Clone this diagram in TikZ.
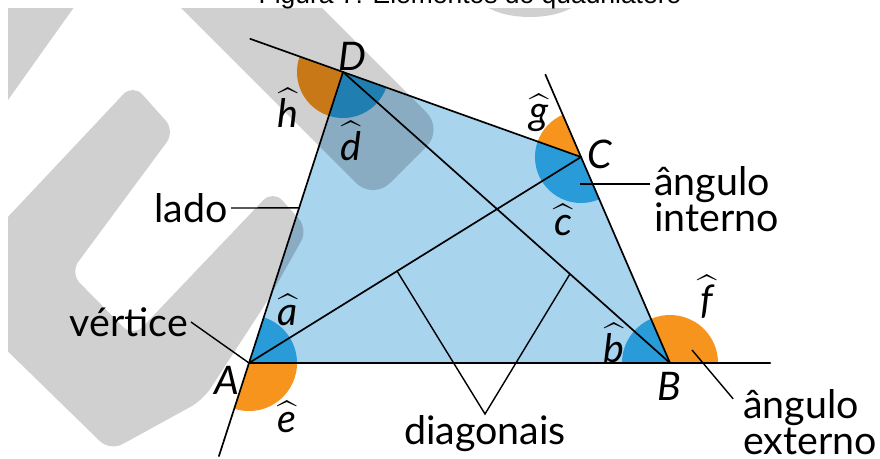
\documentclass[tikz,border=0pt]{standalone}
\usepackage{amsmath}
\usepackage{fontspec}
\setmainfont{Lato}
\newfontfamily\titlefont{Liberation Sans}
\usepackage{tikz}
\usetikzlibrary{angles,calc,positioning}
\definecolor{quadblue}{RGB}{168,212,238}
\definecolor{angblue}{RGB}{41,155,216}
\definecolor{angorange}{RGB}{247,148,30}
\definecolor{markgray}{RGB}{208,208,208}
\tikzset{
  every picture/.style={text=black},
}

\begin{document}
\begin{tikzpicture}[x=0.025cm, y=0.025cm,
  every node/.style={font=\fontsize{28}{26}\selectfont},
  edge/.style={line width=1.2pt, line cap=round},
  leader/.style={line width=1pt},
  intang/.style={fill=angblue, angle radius=1.2cm},
  extang/.style={fill=angorange, angle radius=1.2cm},
  vlabel/.style={font=\fontsize{28}{30}\selectfont\itshape, inner sep=0pt},
  hatlabel/.style={inner sep=0pt}]
\useasboundingbox (0,0) rectangle (880,459);
% title, cut off at the top edge
\node[font=\titlefont\fontsize{18.8}{20}\selectfont, anchor=base] (title) at (470,455)
  {Figura 7: Elementos do quadril\'atero};
% Vertices and the ends of the prolonged sides
\coordinate (A) at (249,96);
\coordinate (B) at (670,96);
\coordinate (C) at (581,302);
\coordinate (D) at (343,387);
\coordinate (Ax) at ($(A)!-0.32!(D)$);
\coordinate (Bx) at ($(B)!-0.238!(A)$);
\coordinate (Cx) at ($(C)!-0.4!(B)$);
\coordinate (Dx) at ($(D)!-0.39!(C)$);
% Quadrilateral
\fill[quadblue] (A) -- (B) -- (C) -- (D) -- cycle;
% Internal (blue) and external (orange) angles
\pic[intang] {angle=B--A--D};
\pic[extang] {angle=Ax--A--B};
\pic[intang] {angle=C--B--A};
\pic[extang] {angle=Bx--B--C};
\pic[intang, angle radius=1.15cm] {angle=D--C--B};
\pic[extang, angle radius=1.15cm] {angle=Cx--C--D};
\pic[intang, angle radius=1.15cm] {angle=A--D--C};
\pic[extang, angle radius=1.15cm] {angle=Dx--D--A};
% Sides, prolongations and diagonals
\draw[edge] (A) -- (B) -- (C) -- (D) -- cycle;
\draw[edge] (B) -- (Bx);
\draw[edge] (C) -- (Cx);
\draw[edge] (D) -- (Dx);
\draw[edge] (A) -- (Ax);
\draw[edge] (A) -- (C);
\draw[edge] (D) -- (B);
% Vertex names
\node[vlabel] (labA) at (227,79) {A};
\node[vlabel] (labB) at (669,73) {B};
\node[vlabel] (labC) at (600,305) {C};
\node[vlabel] (labD) at (352,403) {D};
% Angle names
\node[hatlabel] (hata) at (288,149) {$\widehat{\textit{a}}$};
\node[hatlabel] (hate) at (287,42)  {$\widehat{\textit{e}}$};
\node[hatlabel] (hatb) at (614,116) {$\widehat{\textit{b}}$};
\node[hatlabel] (hatf) at (707,162) {$\widehat{\textit{f}}$};
\node[hatlabel] (hatc) at (563,239) {$\widehat{\textit{c}}$};
\node[hatlabel] (hatg) at (539,346) {$\widehat{\textit{g}}$};
\node[hatlabel] (hatd) at (351,318) {$\widehat{\textit{d}}$};
\node[hatlabel] (hath) at (288,351) {$\widehat{\textit{h}}$};
% Labels with leader lines
\coordinate (ladoend) at ($(A)!0.533!(D)$);
\node[anchor=east, inner sep=2pt] (lado) at (231,251) {lado};
\draw[leader] (lado.east) -- (ladoend);
\node[anchor=east, inner sep=2pt] (vert) at (191,137) {vértice};
\draw[leader] (vert.east) -- (A);
\coordinate (cin) at (580,275);
\node[anchor=north west, inner sep=0pt, align=left] (intlbl) at (654,293)
  {ângulo\\interno};
\draw[leader, shorten >=3pt] (cin) -- (intlbl.west |- cin);
\coordinate (fex) at (692,109);
\node[anchor=north west, inner sep=0pt, align=left] (extlbl) at (743,70)
  {ângulo\\externo};
\draw[leader] (fex) -- ([shift={(-7pt,-7pt)}]extlbl.north west);
\coordinate (pAC) at ($(A)!0.446!(C)$);
\coordinate (pDB) at ($(D)!0.694!(B)$);
\node[anchor=north, inner sep=1pt] (diag) at (485,45) {diagonais};
\draw[leader] (pAC) -- (diag.north) -- (pDB);
% Grey watermark laid over the figure
\begin{scope}[blend mode=multiply]
  \clip (8,0) rectangle (880,450);
  \fill[markgray] (-10,470) -- (87,470) -- (3,352) -- (-10,352) -- cycle;
  \fill[markgray, rounded corners=0.6cm]
    (152,480) -- (293,480) -- (443.5,329.5) -- (373,259) -- cycle;
  \fill[markgray] (478,460) .. controls (495,436) and (565,436) .. (582,460) -- cycle;
  \fill[markgray, rounded corners=0.35cm]
    (-10,223) -- (133,375) -- (175,328) -- (70,186) -- (133,122)
    -- (273,269) -- (308,230) -- (268,159) -- (203,59) -- (110,8)
    -- (-10,125) -- cycle;
\end{scope}
\end{tikzpicture}
\end{document}
